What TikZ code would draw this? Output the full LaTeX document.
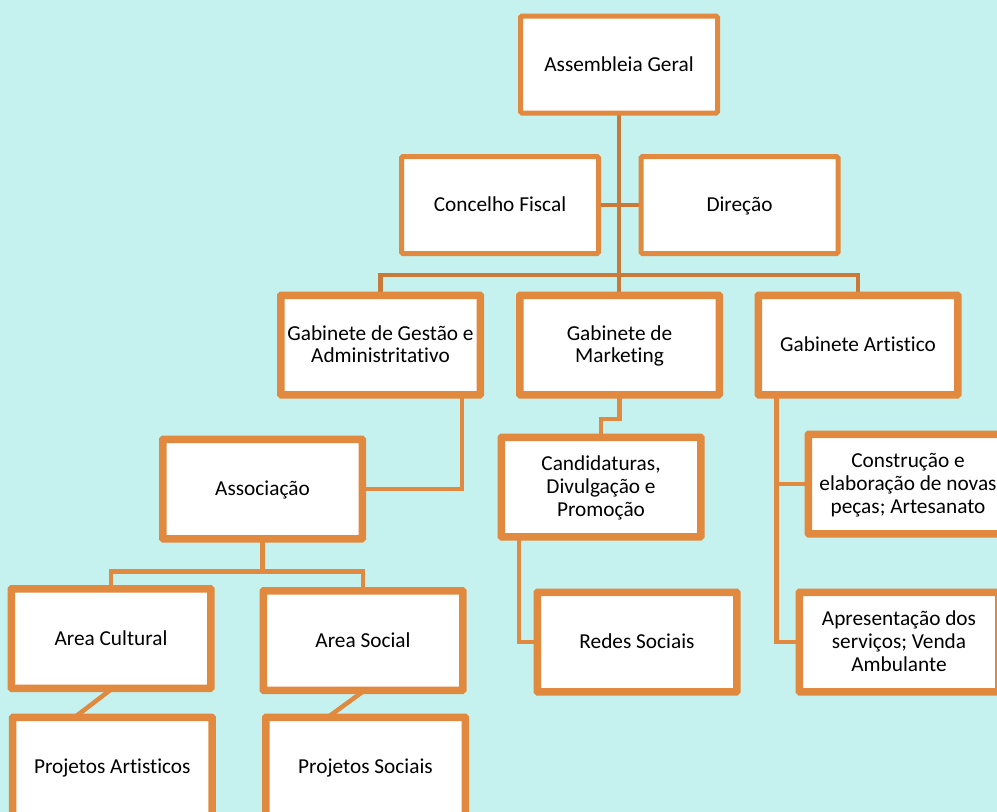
\documentclass[tikz,border=0pt]{standalone}
\usepackage{fontspec}
\setmainfont{Carlito}[Ligatures=NoCommon]
\definecolor{bgc}{RGB}{197,242,238}
\definecolor{orb}{RGB}{225,137,63}
\definecolor{ord}{RGB}{201,122,56}
\newcommand{\tstr}{\rule{0pt}{19pt}}
\newcommand{\bstr}{\rule[-6pt]{0pt}{6pt}}
\tikzset{
  box/.style={draw=orb, line width=5pt, fill=white, rounded corners=1.5pt,
    minimum width=197pt, minimum height=97pt, inner sep=0pt, align=center,
    font=\fontsize{21.3}{22.6}\selectfont},
  conn/.style={draw=orb, line width=4.5pt},
  trunk/.style={draw=ord, line width=4.5pt},
  frame/.style={draw=orb, line width=5pt, rounded corners=1.5pt}
}
\begin{document}
\begin{tikzpicture}[x=1pt,y=-1pt]
\useasboundingbox (0,0) rectangle (997,812);
\fill[bgc] (0,0) rectangle (997,812);
\clip (0,0) rectangle (997,812);
\coordinate (agc) at (619,64.5);
\coordinate (gmc) at (619.5,345);
\coordinate (busy) at (619,275);
\coordinate (cfc) at (500,205);
\coordinate (dirc) at (739.5,205);
\coordinate (ggac) at (380.5,345);
\coordinate (gartc) at (858,345);
\draw[trunk] (agc) -- (agc |- gmc);
\draw[trunk] (cfc) -- (dirc);
\draw[trunk] (ggac) -- (ggac |- busy) -| (gartc);
% nodes
\node[box] (ag) at (agc) {\tstr\bstr Assembleia Geral};
\node[box] (cf) at (cfc) {\tstr\bstr Concelho Fiscal};
\node[box] (dir) at (dirc) {\tstr\bstr Direção};
\node[box] (gga) at (ggac) {\tstr Gabinete de Gestão e\\\bstr Administritativo};
\node[box] (gm) at (gmc) {\tstr Gabinete de\\\bstr Marketing};
\node[box] (gart) at (gartc) {\tstr\bstr Gabinete Artistico};
\node[box] (assoc) at (262.5,489) {\tstr\bstr Associação};
\node[box] (cand) at (601,487) {\tstr Candidaturas,\\Divulgação e\\\bstr Promoção};
\node[box] (redes) at (637,642) {\tstr\bstr Redes Sociais};
\node[box] (constr) at (908,484) {\tstr Construção e\\elaboração de novas\\\bstr peças; Artesanato};
\node[box] (apres) at (899,642) {\tstr Apresentação dos\\serviços; Venda\\\bstr Ambulante};
\node[box] (acult) at (111,638.5) {\tstr\bstr Area Cultural};
\node[box] (asoc) at (363,640.5) {\tstr\bstr Area Social};
\node[box] (pa) at (112.3,767) {\tstr\bstr Projetos Artisticos};
\node[box] (ps) at (365.5,767) {\tstr\bstr Projetos Sociais};
% lower connectors
\draw[conn] ([xshift=-19.5pt]gga.south east) |- (assoc.east);
\draw[conn] (gm.south) -- ++(0,23) -| (cand.north);
\draw[conn] ([xshift=19pt]cand.south west) |- (redes.west);
\draw[conn] ([xshift=19.5pt]gart.south west) |- (apres.west);
\draw[conn] ([xshift=19.5pt]gart.south west) |- (constr.west);
\draw[conn] (assoc.south) -- ++(0,31.5) -| (acult.north);
\draw[conn] (assoc.south) -- ++(0,31.5) -| (asoc.north);
\draw[conn] (acult.south) -- ([xshift=-36pt]pa.north);
\draw[conn] (asoc.south) -- ([xshift=-36pt]ps.north);
% redraw box frames over connector ends
\foreach \n in {gga,gm,cand,gart,assoc,acult,asoc,pa,ps,redes,constr,apres}{
  \draw[frame] (\n.south west) rectangle (\n.north east);
}
\end{tikzpicture}
\end{document}
